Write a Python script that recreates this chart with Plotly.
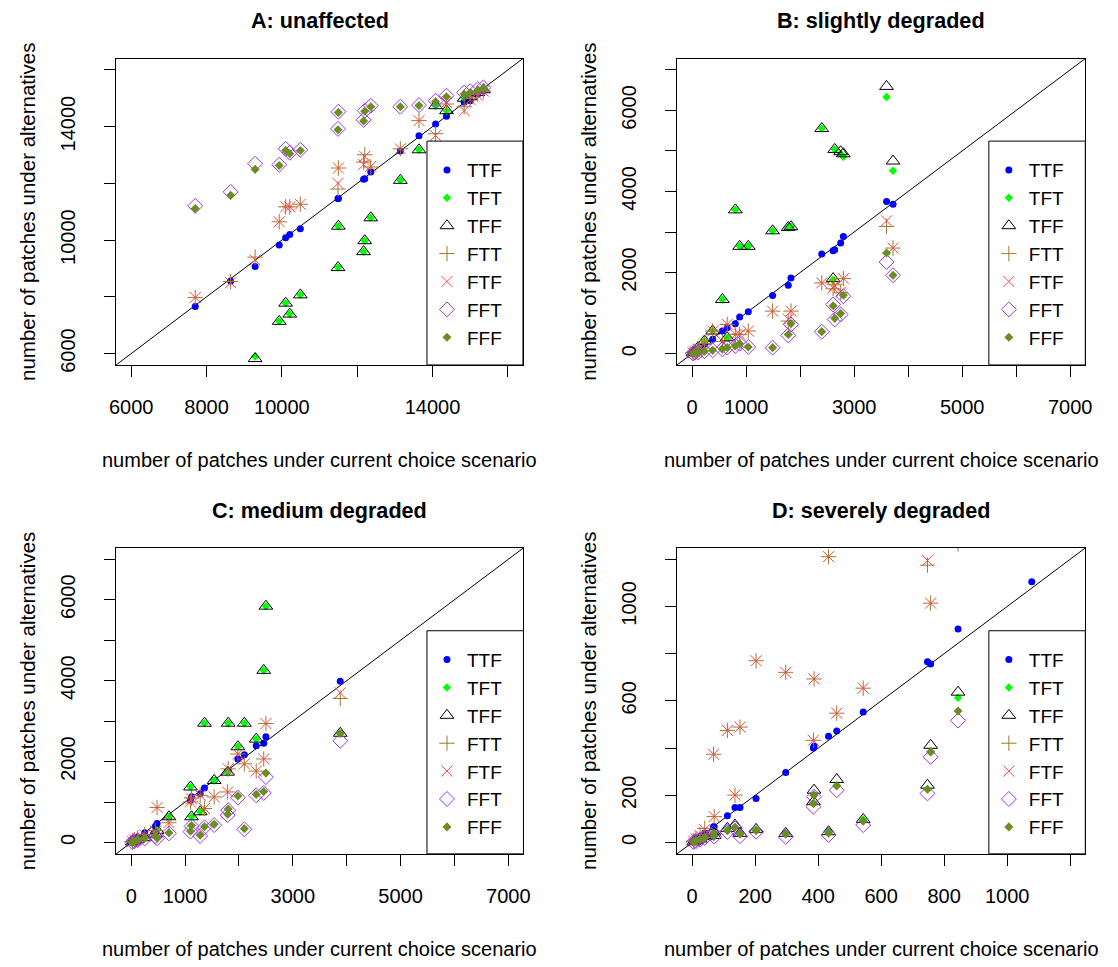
import plotly.graph_objects as go

# ---------------- data (x shared per panel; one y list per series) ----------------
a_x   = [7700, 8640, 9290, 9930, 10100, 10210, 10490, 11490, 11500, 12170, 12200, 12360, 13145, 13640, 14080, 14370, 14840, 15000, 15200, 15350]
a_ttf = [7663, 8562, 9067, 9825, 10084, 10200, 10400, 11464, 11470, 12141, 12165, 12400, 13137, 13674, 14095, 14365, 14857, 14913, 15148, 15265]
a_tft = [4800, 5300, 5900, 7137, 7779, 7393, 8070, 9032, 10491, 9593, 9979, 10786, 12106, 13183, 14737, 14562, 15000, 15050, 15200, 15300]
a_tff = [4800, 5300, 5825, 7137, 7779, 7393, 8070, 9032, 10491, 9593, 9979, 10786, 12106, 13183, 14737, 14562, 15000, 15050, 15200, 15300]
a_ftt = [7979, 8540, 9400, 10646, 11172, 11172, 11264, 11800, 12541, 12750, 13007, 12576, 13218, 14211, 13750, 14797, 14700, 15000, 15150, 15250]
a_ftf = [7979, 8500, 9300, 10646, 11172, 11172, 11264, 12000, 12541, 12657, 12950, 12600, 13218, 14211, 13685, 14850, 14562, 14950, 15100, 15250]
a_fft = [11207, 11699, 12692, 12657, 13218, 13078, 13183, 13920, 14527, 14236, 14562, 14737, 14702, 14760, 14913, 15088, 15200, 15250, 15320, 15380]
a_fff = [11113, 11582, 12493, 12630, 13160, 13043, 13160, 13890, 14500, 14200, 14540, 14700, 14700, 14740, 14880, 15050, 15150, 15200, 15280, 15350]

b_x   = [3600, 3720, 2800, 2750, 2640, 2610, 2400, 1830, 1780, 1490, 1040, 880, 800, 650, 560, 380, 230, 110, 50, 15]
b_ttf = [3752, 3686, 2892, 2727, 2563, 2540, 2457, 1867, 1688, 1433, 1032, 901, 737, 640, 557, 352, 229, 106, 50, 15]
b_tft = [6331, 4513, 4857, 4930, 5037, 1820, 5553, 3130, 3113, 3030, 2646, 2646, 3546, 393, 1335, 557, 311, 150, 60, 20]
b_tff = [6592, 4750, 4930, 4980, 5037, 1850, 5553, 3130, 3113, 3030, 2646, 2646, 3546, 393, 1335, 557, 311, 150, 60, 20]
b_ftt = [3137, 2604, 1850, 1500, 1700, 1600, 1744, 1048, 803, 1048, 557, 475, 480, 720, 300, 557, 250, 120, 60, 20]
b_ftf = [3276, 2604, 1850, 1520, 1680, 1622, 1744, 1048, 850, 1048, 557, 475, 470, 720, 300, 557, 240, 110, 55, 18]
b_fft = [2260, 1933, 1417, 966, 843, 1211, 541, 720, 450, 147, 164, 246, 189, 150, 106, 80, 60, 30, 20, 5]
b_fff = [2482, 1933, 1440, 990, 870, 1180, 541, 740, 470, 147, 164, 246, 189, 150, 106, 80, 60, 30, 20, 5]

c_x   = [3880, 2500, 2460, 2320, 2100, 1980, 1800, 1790, 1540, 1360, 1280, 1100, 1120, 700, 480, 450, 250, 120, 60, 20]
c_ttf = [3986, 2614, 2451, 2393, 2172, 2066, 1780, 1760, 1535, 1348, 1208, 1044, 1130, 637, 473, 400, 240, 120, 60, 20]
c_tft = [2700, 5841, 4255, 2556, 2949, 2368, 2949, 1739, 1535, 2949, 760, 1373, 637, 637, 300, 211, 120, 80, 40, 15]
c_tff = [2700, 5841, 4255, 2556, 2949, 2368, 2949, 1739, 1535, 2949, 760, 1373, 637, 637, 300, 211, 120, 80, 40, 15]
c_ftt = [3560, 2941, 2066, 1765, 1944, 2189, 1821, 1250, 1127, 841, 1168, 1005, 1100, 490, 865, 300, 200, 120, 70, 25]
c_ftf = [3700, 2941, 2066, 1765, 1944, 2189, 1821, 1250, 1127, 841, 1168, 1005, 1080, 490, 865, 280, 190, 110, 65, 22]
c_fft = [2515, 1618, 1226, 1168, 326, 1110, 799, 677, 431, 375, 163, 270, 400, 228, 106, 150, 100, 60, 30, 10]
c_fff = [2696, 1716, 1260, 1190, 340, 1150, 830, 700, 450, 390, 180, 280, 420, 240, 110, 160, 110, 60, 30, 10]

d_x   = [1078, 844, 757, 747, 543, 459, 433, 387, 385, 297, 203, 152, 136, 112, 68, 70, 40, 25, 12, 5]
d_ttf = [1105, 905, 756, 766, 553, 472, 450, 408, 400, 297, 187, 148, 148, 114, 67, 67, 40, 25, 12, 5]
d_tft = [680, 613, 384, 226, 98, 243, 46, 201, 165, 39, 56, 39, 65, 55, 40, 28, 22, 14, 7, 3]
d_tff = [700, 637, 412, 243, 98, 267, 46, 222, 173, 39, 56, 39, 74, 60, 46, 30, 25, 15, 8, 3]
d_ftt = [1400, 1265, 1014, 1175, 654, 548, 1211, 693, 433, 721, 770, 489, 201, 475, 374, 110, 60, 35, 15, 6]
d_ftf = [1450, 1300, 1014, 1195, 654, 548, 1211, 693, 433, 721, 770, 489, 201, 475, 374, 110, 55, 30, 14, 6]
d_fft = [650, 517, 363, 208, 74, 222, 32, 194, 152, 24, 46, 27, 60, 45, 40, 25, 20, 12, 6, 2]
d_fff = [680, 557, 384, 226, 90, 240, 40, 200, 165, 35, 50, 35, 65, 50, 40, 28, 22, 14, 7, 3]

series_names = ["TTF", "TFT", "TFF", "FTT", "FTF", "FFT", "FFF"]
panel_titles = ["A: unaffected", "B: slightly degraded", "C: medium degraded", "D: severely degraded"]
x_title = "number of patches under current choice scenario"
y_title = "number of patches under alternatives"

a_lim = [6000, 16000]
b_lim = [0, 7000]
c_lim = [0, 7000]
d_lim = [0, 1200]
a_ticks = [6000, 8000, 10000, 12000, 14000, 16000]
a_xlabels = ["6000", "8000", "10000", "", "14000", ""]
a_ylabels = ["6000", "", "10000", "", "14000", ""]
bc_ticks = [0, 1000, 2000, 3000, 4000, 5000, 6000, 7000]
bc_xlabels = ["0", "1000", "", "3000", "", "5000", "", "7000"]
bc_ylabels = ["0", "", "2000", "", "4000", "", "6000", ""]
d_ticks = [0, 200, 400, 600, 800, 1000, 1200]
d_xlabels = ["0", "200", "400", "600", "800", "1000", ""]
d_ylabels = ["0", "200", "", "600", "", "1000", ""]

# ---------------- styling ----------------
FONT = "Liberation Sans, Arial, sans-serif"
W, H = 1118, 967
styles = {
    "TTF": dict(symbol="circle", size=7, color="#0000FF", line=dict(width=0)),
    "TFT": dict(symbol="diamond", size=6.5, color="#00FF00", line=dict(width=0)),
    "TFF": dict(symbol="triangle-up-open", size=12, color="#000000", line=dict(width=1, color="#000000")),
    "FTT": dict(symbol="cross-thin-open", size=11, color="#A07A2C", line=dict(width=1, color="#A07A2C")),
    "FTF": dict(symbol="x-thin-open", size=11, color="#FF4040", line=dict(width=1, color="#FF4040")),
    "FFT": dict(symbol="diamond-open", size=11.5, color="#A030F0", line=dict(width=1, color="#A030F0")),
    "FFF": dict(symbol="diamond", size=7, color="#6B8E23", line=dict(width=0)),
}

# pixel boxes of the four plot regions (left, top, right, bottom)
boxes = [(110.5, 59, 522.5, 368), (678.5, 59, 1092, 368),
         (110.5, 552.5, 523, 861), (678.5, 552.5, 1092, 861)]
legend_left = [425.3, 994.3, 425.3, 994.3]
legend_top = [142.3, 142.3, 636, 636]

panels = [
    (a_x, [a_ttf, a_tft, a_tff, a_ftt, a_ftf, a_fft, a_fff], a_lim, a_ticks, a_xlabels, a_ylabels),
    (b_x, [b_ttf, b_tft, b_tff, b_ftt, b_ftf, b_fft, b_fff], b_lim, bc_ticks, bc_xlabels, bc_ylabels),
    (c_x, [c_ttf, c_tft, c_tff, c_ftt, c_ftf, c_fft, c_fff], c_lim, bc_ticks, bc_xlabels, bc_ylabels),
    (d_x, [d_ttf, d_tft, d_tff, d_ftt, d_ftf, d_fft, d_fff], d_lim, d_ticks, d_xlabels, d_ylabels),
]

def px(x):
    return x / W

def py(y):
    return 1 - y / H

fig = go.Figure()
layout = dict(width=W, height=H, margin=dict(l=0, r=0, t=0, b=0),
              paper_bgcolor="white", plot_bgcolor="white",
              font=dict(family=FONT, color="black", size=20),
              shapes=[], annotations=[])

for i, (xs, ys_list, lim, ticks, xlabels, ylabels) in enumerate(panels):
    n = "" if i == 0 else str(i + 1)
    leg = "legend" if i == 0 else f"legend{i + 1}"
    pad = (lim[1] - lim[0]) * 0.04
    rng = [lim[0] - pad, lim[1] + pad]
    l, t, r, b = boxes[i]
    for name, ys in zip(series_names, ys_list):
        st = styles[name]
        fig.add_trace(go.Scatter(
            x=xs, y=ys, mode="markers", name=name,
            marker=dict(symbol=st["symbol"], size=st["size"], color=st["color"], line=st["line"]),
            xaxis="x" + n, yaxis="y" + n, legend=leg, legendgroup=f"p{i}{name}",
            showlegend=True, hoverinfo="x+y+name"))
    axis_common = dict(range=rng, tickvals=ticks, ticks="outside", ticklen=11, tickwidth=1,
                       tickcolor="black", showline=True, mirror=True, linecolor="black",
                       linewidth=1, showgrid=False, zeroline=False,
                       tickfont=dict(family=FONT, size=20, color="black"))
    layout["xaxis" + n] = dict(axis_common, domain=[px(l), px(r)], anchor="y" + n,
                               ticktext=xlabels, ticklabelstandoff=13)
    layout["yaxis" + n] = dict(axis_common, domain=[py(b), py(t)], anchor="x" + n,
                               ticktext=ylabels, tickangle=-90, ticklabelstandoff=21)
    # diagonal y = x
    layout["shapes"].append(dict(type="line", xref="x" + n, yref="y" + n,
                                 x0=rng[0], y0=rng[0], x1=rng[1], y1=rng[1],
                                 line=dict(color="black", width=1), layer="below"))
    # legend box
    layout["shapes"].append(dict(type="rect", xref="paper", yref="paper",
                                 x0=px(legend_left[i]), x1=px(r), y0=py(b), y1=py(legend_top[i]),
                                 fillcolor="white", line=dict(color="black", width=1), layer="above"))
    layout[leg] = dict(x=px(legend_left[i]), y=py(legend_top[i] + 10), xanchor="left", yanchor="top",
                       bgcolor="rgba(0,0,0,0)", borderwidth=0, tracegroupgap=0.2,
                       font=dict(family=FONT, size=19, color="black"))
    # titles
    cx = (l + r) / 2
    layout["annotations"].append(dict(text=f"<b>{panel_titles[i]}</b>", x=px(cx), y=py(t - 38),
                                      xref="paper", yref="paper", showarrow=False,
                                      font=dict(family=FONT, size=21.6, color="black"),
                                      xanchor="center", yanchor="middle"))
    layout["annotations"].append(dict(text=x_title, x=px(cx), y=py(b + 96),
                                      xref="paper", yref="paper", showarrow=False,
                                      font=dict(family=FONT, size=20, color="black"),
                                      xanchor="center", yanchor="middle"))
    layout["annotations"].append(dict(text=y_title, x=px(l - 89), y=py((t + b) / 2),
                                      xref="paper", yref="paper", showarrow=False, textangle=-90,
                                      font=dict(family=FONT, size=20.5, color="black"),
                                      xanchor="center", yanchor="middle"))

fig.update_layout(**layout)
fig.write_html("out.html", config={"displayModeBar": False},
               post_script="document.body.style.margin='0px';document.body.style.overflow='hidden';")
